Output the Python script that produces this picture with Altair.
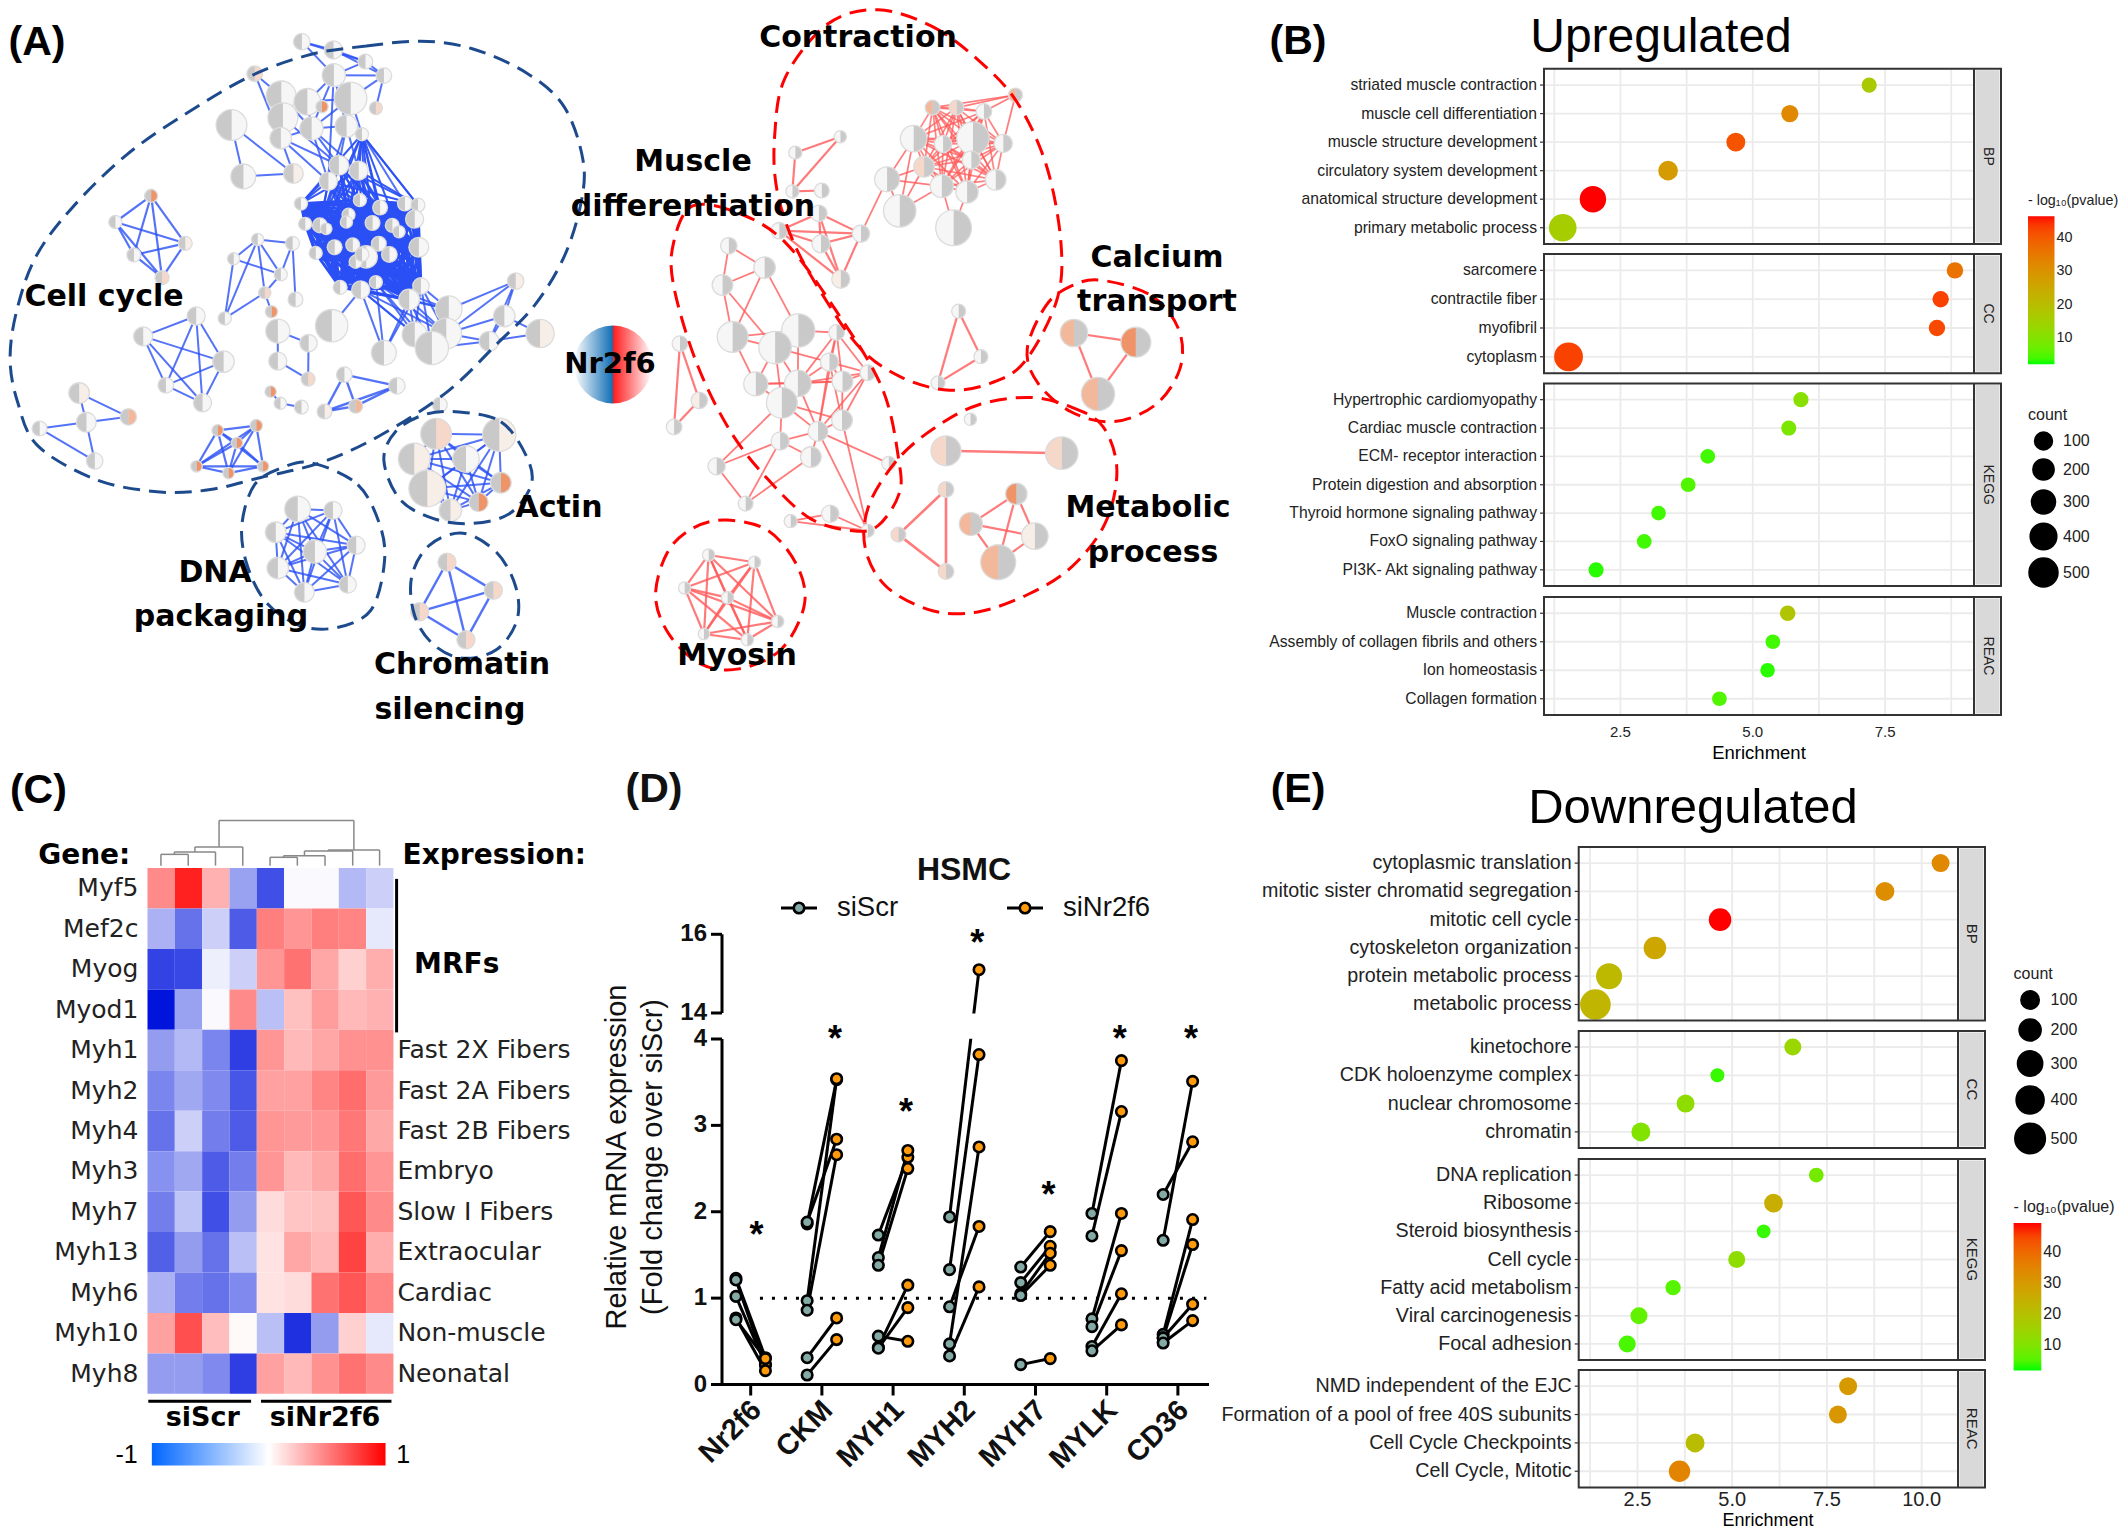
import itertools, math
import altair as alt
import pandas as pd

SX, SY = 660 / 1568, 760 / 1568
ONE = pd.DataFrame({"k": [0]})
SANS = "Liberation Sans"
DJ = "DejaVu Sans"
CW, CH = 2112, 1523   # plot area; reference pixel = chart pixel + 8

# ---------------- Panel A: network (read in zoomed reference units) -------------
N, V, L, P, O = "#f6f6f6", "#f7eee8", "#f5d8ca", "#f2b89c", "#ee9468"
B_TOP = [(717,86,18,N),(792,103,20,N),(868,127,16,N),(912,156,17,N),(605,152,17,L),(793,155,26,N),(668,198,34,N),
         (730,210,30,N),(765,220,13,O),(833,203,37,N),(893,223,14,L),(672,243,34,N),(550,258,35,N),(740,265,26,N),
         (823,260,25,N),(860,277,14,N),(667,285,24,N),(578,364,28,N),(697,358,22,V),(805,341,22,N),(852,352,21,N),(780,374,20,N)]
B_TOP_E = [(0,1),(0,2),(0,5),(1,2),(1,3),(2,3),(2,5),(3,5),(3,10),(5,9),(5,7),(5,13),(5,14),(7,13),(7,9),(7,6),(6,11),
           (11,16),(16,13),(13,14),(13,9),(9,14),(14,15),(4,6),(4,16),(12,17),(12,18),(17,18),(16,18),(11,19),(13,19),
           (14,19),(13,20),(14,20),(15,20),(5,21),(3,9),(8,7),(16,19),(16,21),(13,21),(14,21),(9,15),(6,13)]
B_DENSE = [(715,420,14,N),(855,413,14,N),(903,428,16,N),(962,420,16,N),(993,423,15,N),(725,462,14,N),(760,465,16,N),
           (775,472,12,N),(828,443,14,N),(823,458,13,N),(885,460,16,N),(932,465,15,N),(948,478,13,N),(985,452,20,N),
           (838,505,15,N),(795,510,16,N),(750,522,14,N),(900,503,16,N),(925,525,17,N),(995,510,22,N),(870,530,25,N),
           (845,540,14,N),(860,525,15,N),(893,582,14,N),(808,593,15,N),(857,598,20,N),(1000,590,18,N),(972,618,23,N)]
B_LOW = [(788,672,37,N),(1066,638,30,N),(985,690,28,N),(912,728,28,N),(1060,688,35,N),(1026,718,38,N),
         (1225,580,18,V),(1198,652,24,N),(1162,704,22,N),(1283,688,32,V)]
B_LOW_E = [(1,6),(4,6),(4,7),(4,8),(5,8),(6,7),(6,8),(7,8),(7,9),(8,9)]
B_SQ = [(359,404,14,O),(274,458,14,N),(318,526,15,N),(385,573,15,L),(440,502,15,V)]
B_MID = [(612,494,13,N),(695,502,15,N),(555,534,13,N),(667,566,14,N),(629,604,13,L),(534,657,14,N),(702,618,16,N),(645,643,13,O)]
B_MID_E = [(0,2),(0,3),(0,5),(0,4),(0,1),(2,5),(2,3),(5,4),(3,4),(1,3),(1,6),(4,7)]
B_RING = [(660,683,27,N),(733,708,19,N),(660,745,20,N),(732,782,15,L)]
B_RING_E = [(0,2),(2,3),(1,3),(0,1)]
B_CHAIN = [(643,808,12,O),(666,832,13,N),(716,840,15,N)]
B_CHAIN_E = [(0,1),(1,2)]
B_KITE = [(818,773,17,N),(943,796,18,N),(771,849,16,V),(845,838,15,P)]
B_PENT = [(466,652,20,N),(340,694,21,N),(531,746,24,N),(394,795,17,N),(481,831,20,N)]
B_FIVE = [(188,811,23,V),(205,871,22,N),(94,884,16,N),(305,860,18,P),(225,951,18,N)]
B_FIVE_E = [(0,3),(1,3),(2,1),(2,4),(1,4),(0,1)]
B_SIX = [(517,888,12,O),(609,878,13,O),(563,914,12,O),(467,962,12,O),(625,962,12,O),(543,976,12,O)]
B_ACTIN = [(1036,895,35,L),(1186,897,38,V),(984,947,36,V),(1107,947,30,N),(1190,996,23,O),(1015,1008,42,V),(1137,1036,21,O),(1070,1053,25,V)]
B_DNA = [(707,1050,29,N),(791,1053,20,N),(655,1098,23,N),(846,1125,20,N),(748,1138,26,N),(660,1172,24,N),(723,1222,22,N),(826,1206,19,N)]
B_CHROM = [(1062,1160,20,L),(1172,1218,20,L),(997,1262,20,L),(1107,1320,20,L)]
B_SINGLE = [(1045,835,16,N)]

R_TOP = [(790,222,16,P),(847,222,16,L),(987,196,15,P),(912,230,17,N),(745,286,30,N),(886,285,37,N),(815,297,19,N),(958,296,20,N),
         (770,344,23,L),(882,330,20,N),(940,371,23,N),(812,384,26,N),(872,396,25,N),(682,370,28,N),(712,435,37,N),(840,470,41,N)]
R_TOP_E = [(2,0),(2,1),(2,3),(2,7),(13,4),(13,8),(13,14),(13,11),(14,8),(14,11),(15,11),(15,12),(14,4)]
R_SMALL = [(571,282,13,N),(464,315,14,N),(457,395,14,N),(527,393,16,N),(520,440,18,N),(426,476,18,N),(525,503,20,N),(620,482,19,N),(572,576,20,V)]
R_SMALL_E = [(0,1),(0,2),(1,2),(2,3),(4,5),(4,6),(4,7),(4,8),(5,6),(5,7),(5,8),(6,7),(6,8),(7,8)]
R_TRI = [(852,642,15,N),(905,736,15,N),(803,790,15,N)]
R_MUS = [(306,507,18,N),(391,552,24,N),(291,588,23,N),(315,695,35,N),(471,682,38,N),(416,717,37,N),(562,686,17,N),(545,747,20,N),
         (636,769,17,N),(370,792,27,N),(470,791,30,N),(576,787,23,N),(432,831,35,N),(575,867,23,N),(518,890,22,N),(428,910,20,N),
         (501,943,23,N),(277,962,19,N),(686,956,15,N),(346,1039,16,N),(636,1095,14,N),(547,1060,19,N),(453,1075,14,N)]
R_MUS_E = [(0,1),(0,2),(1,2),(1,3),(2,3),(2,5),(3,5),(3,4),(1,4),(3,9),(4,5),(5,9),(5,10),(4,10),(9,10),(9,12),(10,12),(9,11),(10,11),
           (10,7),(10,6),(10,8),(7,6),(7,11),(6,11),(11,8),(6,8),(7,8),(7,13),(11,13),(8,13),(13,14),(12,14),(10,14),(7,14),(6,14),(8,14),
           (14,15),(12,15),(14,16),(15,16),(15,17),(15,19),(16,19),(17,19),(14,18),(14,20),(13,20),(12,17),(20,21),(20,22),(21,22),(5,7),(4,6),(5,12),(12,13)]
R_TRIO = [(190,709,17,N),(236,826,18,V),(176,881,17,N)]
R_CA = [(1126,687,31,P),(1273,706,34,O),(1183,813,38,P)]
R_BAR = [(822,930,34,L),(1097,935,37,L)]
R_SOLO = [(880,865,13,N)]
R_M1 = [(822,1010,17,L),(709,1103,16,L),(822,1179,17,L)]
R_M2 = [(989,1019,24,O),(881,1081,26,P),(1033,1106,30,V),(946,1160,40,P)]
R_MYO = [(258,1145,13,N),(367,1160,13,N),(201,1213,13,N),(303,1233,13,N),(422,1282,13,N),(247,1308,12,N),(350,1320,13,N)]

BLOBS = {
 "b1": ("b", [(740,112),(870,95),(1000,85),(1120,100),(1250,150),(1340,220),(1385,330),(1380,420),(1340,530),(1270,630),(1180,710),(1060,810),(900,900),(760,955),(620,985),(500,1010),(380,1015),(230,990),(90,920),(42,830),(24,740),(40,640),(85,530),(170,430),(300,320),(450,230),(600,155)]),
 "b2": ("b", [(1090,850),(1190,870),(1250,940),(1262,1000),(1210,1060),(1120,1080),(1030,1070),(950,1030),(912,950),(940,890),(1010,855)]),
 "b3": ("b", [(740,955),(850,1000),(905,1090),(912,1170),(880,1260),(800,1295),(710,1290),(630,1240),(585,1160),(575,1080),(605,1000),(670,965)]),
 "b4": ("b", [(1100,1100),(1180,1140),(1225,1210),(1228,1280),(1180,1340),(1100,1358),(1030,1330),(985,1270),(978,1190),(1020,1125)]),
 "r1": ("r", [(660,20),(790,55),(900,125),(990,210),(1060,340),(1095,500),(1085,620),(1010,745),(930,790),(830,805),(720,780),(620,720),(530,610),(460,500),(420,390),(415,280),(440,160),(540,50)]),
 "r2": ("r", [(220,425),(330,440),(440,500),(560,640),(670,800),(710,950),(710,1020),(660,1085),(600,1095),(500,1070),(400,990),(310,890),(230,750),(175,590),(175,500)]),
 "r3": ("r", [(1190,578),(1310,610),(1375,680),(1378,760),(1320,835),(1220,870),(1120,850),(1040,790),(1015,720),(1060,630),(1120,590)]),
 "r4": ("r", [(1020,820),(1120,840),(1195,880),(1228,970),(1200,1080),(1120,1170),(1020,1225),(900,1262),(790,1260),(680,1210),(630,1130),(640,1040),(710,945),(800,880),(900,835)]),
 "r5": ("r", [(300,1073),(400,1095),(470,1170),(485,1250),(430,1340),(330,1380),(240,1370),(165,1310),(132,1230),(160,1140),(220,1090)]),
}

def bx(v): return v * SX
def rx(v): return 600 + v * SX
def yy(v): return v * SY

nodes, edges = [], []
def add_nodes(lst, fx, side):
    for (x, y, r, c) in lst:
        px, py, pr = fx(x), yy(y), r * SX
        nodes.append(dict(x=px, y=py, r=pr + 1.3, t0=0, t1=2 * math.pi, c="#dcdcdc"))
        right, left = (c, "#c9c9c9") if side == "b" else ("#c9c9c9", c)
        nodes.append(dict(x=px, y=py, r=pr, t0=0, t1=math.pi, c=right))
        nodes.append(dict(x=px, y=py, r=pr, t0=math.pi, t1=2 * math.pi, c=left))
def add_edge(a, b, fx, col, w=2.0, o=0.8):
    edges.append(dict(x1=fx(a[0]), y1=yy(a[1]), x2=fx(b[0]), y2=yy(b[1]), col=col, w=w, o=o))
def clique(lst, fx, col, w=2.0, o=0.8):
    for a, b in itertools.combinations(lst, 2):
        add_edge(a, b, fx, col, w, o)
def pairs(lst, prs, fx, col, w=2.0, o=0.8):
    for i, j in prs:
        add_edge(lst[i], lst[j], fx, col, w, o)
def cross(la, lb, fx, col, w=2.0, o=0.8):
    for a in la:
        for b in lb:
            add_edge(a, b, fx, col, w, o)

BC, RC = "#2a50f5", "#ff5a5a"
pairs(B_TOP, B_TOP_E, bx, BC)
clique(B_DENSE, bx, BC, 2.8, 1)
cross([B_TOP[15], B_TOP[19], B_TOP[20], B_TOP[21]], B_DENSE[:22:2], bx, BC, 2.0, 0.95)
cross([B_TOP[15]], [B_DENSE[3], B_DENSE[4]], bx, BC)
cross([B_DENSE[23], B_DENSE[25], B_DENSE[26], B_DENSE[27]], [B_LOW[1], B_LOW[2], B_LOW[3], B_LOW[4], B_LOW[5]], bx, BC)
add_edge(B_LOW[0], B_DENSE[25], bx, BC)
pairs(B_LOW, B_LOW_E, bx, BC)
clique(B_SQ, bx, BC, 2.2)
pairs(B_MID, B_MID_E, bx, BC)
pairs(B_RING, B_RING_E, bx, BC)
pairs(B_CHAIN, B_CHAIN_E, bx, BC)
clique(B_KITE, bx, BC, 2.4)
clique(B_PENT, bx, BC)
pairs(B_FIVE, B_FIVE_E, bx, BC)
clique(B_SIX, bx, BC, 2.2)
clique(B_ACTIN, bx, BC)
clique(B_DNA, bx, BC)
clique(B_CHROM, bx, BC, 2.4)
clique(R_TOP[:2] + R_TOP[3:13], rx, RC, 1.7, 0.75)
pairs(R_TOP, R_TOP_E, rx, RC, 1.7)
pairs(R_SMALL, R_SMALL_E, rx, RC, 2.2)
add_edge(R_SMALL[7], R_TOP[13], rx, RC, 1.7)
clique(R_TRI, rx, RC, 2.2)
pairs(R_MUS, R_MUS_E, rx, RC, 1.8)
clique(R_TRIO, rx, RC, 2.2)
clique(R_CA, rx, RC, 2.2)
clique(R_BAR, rx, RC, 2.6)
clique(R_M1, rx, RC, 2.6)
clique(R_M2, rx, RC, 2.2)
clique(R_MYO, rx, RC, 2.2)

for g in [B_TOP, B_DENSE, B_LOW, B_SQ, B_MID, B_RING, B_CHAIN, B_KITE, B_PENT, B_FIVE, B_SIX, B_ACTIN, B_DNA, B_CHROM, B_SINGLE]:
    add_nodes(g, bx, "b")
for g in [R_TOP, R_SMALL, R_TRI, R_MUS, R_TRIO, R_CA, R_BAR, R_SOLO, R_M1, R_M2, R_MYO]:
    add_nodes(g, rx, "r")

blob_rows = []
for name, (side, pts) in BLOBS.items():
    f = bx if side == "b" else rx
    for i, (x, y) in enumerate(pts):
        blob_rows.append(dict(x=f(x), y=yy(y), name=name, i=i, col="#1d4a8c" if side == "b" else "#ff0000"))
blob_df = pd.DataFrame(blob_rows)

AX = alt.Scale(domain=[8, 8 + CW], nice=False, zero=False)
AY = alt.Scale(domain=[8 + CH, 8], nice=False, zero=False)

def tx(text, x, y, size, weight="normal", font=SANS, align="center", baseline="middle", color="black", angle=None):
    """x, y in reference pixels."""
    kw = dict(fontSize=size, fontWeight=weight, font=font, align=align, baseline=baseline, color=color, text=text)
    if angle is not None:
        kw["angle"] = angle
    return alt.Chart(ONE).mark_text(**kw).encode(x=alt.value(x - 8), y=alt.value(y - 8))

edge_l = alt.Chart(pd.DataFrame(edges)).mark_rule().encode(
    x=alt.X("x1:Q", scale=AX, axis=None), x2="x2:Q",
    y=alt.Y("y1:Q", scale=AY, axis=None), y2="y2:Q",
    color=alt.Color("col:N", scale=None, legend=None),
    strokeWidth=alt.StrokeWidth("w:Q", scale=None, legend=None),
    opacity=alt.Opacity("o:Q", scale=None, legend=None))
node_l = alt.Chart(pd.DataFrame(nodes)).mark_arc().encode(
    x=alt.X("x:Q", scale=AX, axis=None), y=alt.Y("y:Q", scale=AY, axis=None),
    theta=alt.Theta("t0:Q", scale=None, stack=None), theta2="t1:Q",
    radius=alt.Radius("r:Q", scale=None),
    color=alt.Color("c:N", scale=None, legend=None))
blob_l = alt.Chart(blob_df).mark_line(interpolate="cardinal-closed", strokeWidth=3, strokeDash=[17, 9]).encode(
    x=alt.X("x:Q", scale=AX, axis=None), y=alt.Y("y:Q", scale=AY, axis=None),
    order="i:Q", detail="name:N",
    color=alt.Color("col:N", scale=None, legend=None))

NC = (613 - 8, 364.5 - 8)
hub_l = alt.Chart(ONE).mark_arc(radius=39, theta=math.pi, theta2=2 * math.pi,
    fill=alt.Gradient(gradient="linear", x1=0, x2=1, y1=0, y2=0,
                      stops=[alt.GradientStop(color="#ffffff", offset=0), alt.GradientStop(color="#0f6db5", offset=1)])
    ).encode(x=alt.value(NC[0]), y=alt.value(NC[1]))
hub_r = alt.Chart(ONE).mark_arc(radius=39, theta=0, theta2=math.pi,
    fill=alt.Gradient(gradient="linear", x1=0, x2=1, y1=0, y2=0,
                      stops=[alt.GradientStop(color="#ff1a1a", offset=0), alt.GradientStop(color="#ffffff", offset=1)])
    ).encode(x=alt.value(NC[0]), y=alt.value(NC[1]))

A_LABELS = [("Cell cycle",104,297),("DNA",215,573),("packaging",221,617),("Actin",559,508),("Chromatin",462,665),("silencing",450,710),
            ("Contraction",858,38),("Muscle",693,162),("differentiation",693,207),("Calcium",1157,258),("transport",1157,302),
            ("Metabolic",1148,508),("process",1153,553),("Myosin",737,656)]
a_layers = [edge_l, node_l, blob_l, hub_l, hub_r]
for t, x, y in A_LABELS:
    a_layers.append(tx(t, x, y, 30, "bold", DJ))
a_layers.append(tx("Nr2f6", 610, 364, 29, "bold", DJ))
a_layers.append(tx("(A)", 37, 43, 41, "bold"))
panel_a = alt.layer(*a_layers)

# ---------------- Panels B / E : dot plots ---------------------------------------
UP = {
 "BP": (["striated muscle contraction","muscle cell differentiation","muscle structure development","circulatory system development","anatomical structure development","primary metabolic process"],
        [7.20,5.70,4.68,3.40,1.98,1.41],[30,80,130,150,390,440],[17,32,41,28,46.4,16]),
 "CC": (["sarcomere","contractile fiber","myofibril","cytoplasm"],
        [8.82,8.55,8.48,1.52],[60,60,60,490],[36,43,42,43]),
 "KEGG": (["Hypertrophic cardiomyopathy","Cardiac muscle contraction","ECM- receptor interaction","Protein digestion and absorption","Thyroid hormone signaling pathway","FoxO signaling pathway","PI3K- Akt signaling pathway"],
        [5.91,5.68,4.15,3.78,3.22,2.95,2.04],[30,30,20,20,20,20,30],[11,9,4,5,4,4,3]),
 "REAC": (["Muscle contraction","Assembly of collagen fibrils and others","Ion homeostasis","Collagen formation"],
        [5.66,5.38,5.28,4.37],[40,20,15,20],[18,4,3,5]),
}
DOWN = {
 "BP": (["cytoplasmic translation","mitotic sister chromatid segregation","mitotic cell cycle","cytoskeleton organization","protein metabolic process","metabolic process"],
        [10.50,9.03,4.68,2.96,1.75,1.39],[89,114,214,214,325,500],[34,33,49.6,27,22,23]),
 "CC": (["kinetochore","CDK holoenzyme complex","nuclear chromosome","chromatin"],
        [6.60,4.61,3.77,2.59],[66,3,89,114],[14,3,12,10]),
 "KEGG": (["DNA replication","Ribosome","Steroid biosynthesis","Cell cycle","Fatty acid metabolism","Viral carcinogenesis","Focal adhesion"],
        [7.22,6.09,5.83,5.12,3.44,2.54,2.23],[17,106,0,66,29,66,66],[8,25,3,12,5,6,4]),
 "REAC": (["NMD independent of the EJC","Formation of a pool of free 40S subunits","Cell Cycle Checkpoints","Cell Cycle, Mitotic"],
        [8.06,7.79,4.02,3.61],[89,89,114,180],[30,31,21,35]),
}
GRID_B = [1.25,2.5,3.75,5,6.25,7.5,8.75]
GRID_E = [1.25,2.5,3.75,5,6.25,7.5,8.75,10]

def dot_panel(key, data, l, r, sr, t, b, xdom, grid, ticks, tick_y, tick_size, area, cdom, lab, strip_size, leg_c=None, leg_s=None):
    cats, xs, counts, pv = data
    L0, R0, S0, T0, B0 = l - 8, r - 8, sr - 8, t - 8, b - 8
    df = pd.DataFrame({"cat": cats, "x": xs, "count": counts, "p": pv})
    XS = alt.Scale(domain=xdom, range=[L0, R0], nice=False, zero=False)
    YS = alt.Scale(type="point", domain=cats, range=[T0, B0], padding=0.57)
    ax = alt.X("x:Q", scale=XS, axis=None)
    ay = alt.Y("cat:N", scale=YS, axis=None, sort=None)
    base = alt.Chart(df)
    layers = [
        alt.Chart(pd.DataFrame({"x": grid})).mark_rule(color="#ebebeb", strokeWidth=1.8).encode(x=ax, y=alt.value(T0), y2=alt.value(B0)),
        base.mark_rule(color="#ebebeb", strokeWidth=1.8).encode(y=ay, x=alt.value(L0), x2=alt.value(R0)),
        base.mark_rule(color="#333333", strokeWidth=1.2).encode(y=ay, x=alt.value(L0 - 4), x2=alt.value(L0)),
        base.mark_text(align="right", fontSize=lab, color="#222222", font=SANS).encode(y=ay, x=alt.value(L0 - 7), text="cat:N"),
        base.mark_circle(opacity=1).encode(
            x=ax, y=ay,
            size=alt.Size("count:Q", scale=alt.Scale(domain=[0, 500], range=area), legend=leg_s),
            color=alt.Color("p:Q", scale=alt.Scale(domain=cdom, range=["#00ff00", "#ff0000"], interpolate="lab"), legend=leg_c)),
        alt.Chart(ONE).mark_rect(color="#d9d9d9").encode(x=alt.value(R0 + 1.5), x2=alt.value(S0 - 1.5), y=alt.value(T0 + 1.5), y2=alt.value(B0 - 1.5)),
        alt.Chart(ONE).mark_text(text=key, angle=90, fontSize=strip_size, color="#222222", font=SANS).encode(x=alt.value((R0 + S0) / 2), y=alt.value((T0 + B0) / 2)),
        alt.Chart(ONE).mark_rect(fill="white", fillOpacity=0, stroke="#333333", strokeWidth=2).encode(x=alt.value(L0), x2=alt.value(S0), y=alt.value(T0), y2=alt.value(B0)),
        alt.Chart(ONE).mark_rule(color="#333333", strokeWidth=2).encode(x=alt.value(R0), y=alt.value(T0), y2=alt.value(B0)),
    ]
    if ticks:
        tdf = pd.DataFrame({"x": ticks, "s": [f"{v:.1f}" for v in ticks]})
        layers.append(alt.Chart(tdf).mark_text(fontSize=tick_size, color="#222222", font=SANS).encode(x=ax, y=alt.value(tick_y - 8), text="s:N"))
    return alt.layer(*layers)

def leg_color(x, y, length, thick, size):
    return alt.Legend(title="- log₁₀(pvalue)", orient="none", legendX=x, legendY=y, gradientLength=length, gradientThickness=thick,
                      values=[10,20,30,40], titleFontSize=size, titleFontWeight="normal", labelFontSize=size, titlePadding=8,
                      titleLimit=300, gradientStrokeWidth=0, labelColor="#222", titleColor="#222", direction="vertical")
def leg_size(x, y, size, pad):
    return alt.Legend(title="count", orient="none", legendX=x, legendY=y, values=[100,200,300,400,500], titleFontSize=size,
                      titleFontWeight="normal", labelFontSize=size, symbolFillColor="black", symbolStrokeColor="black",
                      symbolOpacity=1, rowPadding=pad, titlePadding=8, labelColor="#222", titleColor="#222", symbolType="circle")
def leg_ticks(x0, x1, top, bot, cdom):
    ys = alt.Y("v:Q", scale=alt.Scale(domain=cdom, range=[bot - 8, top - 8], nice=False, zero=False), axis=None)
    df = pd.DataFrame({"v": [10, 20, 30, 40]})
    w = (x1 - x0) / 5
    return alt.layer(
        alt.Chart(df).mark_rule(color="white", strokeWidth=1.2).encode(y=ys, x=alt.value(x0 - 8), x2=alt.value(x0 - 8 + w)),
        alt.Chart(df).mark_rule(color="white", strokeWidth=1.2).encode(y=ys, x=alt.value(x1 - 8 - w), x2=alt.value(x1 - 8)))

B_BOX = {"BP": (68.8, 244), "CC": (254, 373.2), "KEGG": (383.5, 586), "REAC": (597, 715)}
E_BOX = {"BP": (847, 1020.6), "CC": (1030.9, 1148), "KEGG": (1159, 1360), "REAC": (1370, 1487.4)}
panels = []
for key in ["BP", "CC", "KEGG", "REAC"]:
    t, b = B_BOX[key]
    panels.append(dot_panel(key, UP[key], 1544, 1974, 2001, t, b, [1.056, 9.18], GRID_B, [2.5,5,7.5] if key == "REAC" else None, 731.6, 15,
                            [191, 841], [2.25, 46.4], 15.7, 14,
                            leg_color(2020, 186, 148, 26.5, 14.3) if key == "BP" else None,
                            leg_size(2020, 399, 16, 2) if key == "BP" else None))
    t, b = E_BOX[key]
    panels.append(dot_panel(key, DOWN[key], 1578.7, 1958, 1985, t, b, [0.949, 10.96], GRID_E, [2.5,5,7.5,10] if key == "REAC" else None, 1500, 20,
                            [191, 936], [1.55, 49.6], 19.7, 15,
                            leg_color(2005.6, 1191, 147.6, 27.7, 16) if key == "BP" else None,
                            leg_size(2005.6, 958, 16, 2) if key == "BP" else None))
panels.append(leg_ticks(2028, 2054.5, 218.5, 367, [2.25, 46.4]))
panels.append(leg_ticks(2013.6, 2041.3, 1223, 1370.7, [1.55, 49.6]))
heads = [tx("Upregulated", 1661, 51.5, 48, baseline="alphabetic"), tx("(B)", 1298, 42, 41, "bold"),
         tx("Enrichment", 1759, 752.7, 18.5),
         tx("Downregulated", 1693, 822.5, 49, baseline="alphabetic"), tx("(E)", 1298, 790, 41, "bold"),
         tx("Enrichment", 1768, 1521, 18)]

# ---------------- Panel C: heatmap ---------------------------------------------
GENES = ["Myf5","Mef2c","Myog","Myod1","Myh1","Myh2","Myh4","Myh3","Myh7","Myh13","Myh6","Myh10","Myh8"]
HEAT = [
 [.5,.95,.33,-.4,-.75,-.02,-.02,-.3,-.2],
 [-.33,-.6,-.2,-.7,.55,.45,.55,.52,-.1],
 [-.8,-.78,-.07,-.2,.45,.6,.38,.2,.35],
 [-1,-.4,-.02,.5,-.27,.27,.42,.3,.33],
 [-.42,-.3,-.52,-.82,.45,.3,.38,.47,.47],
 [-.52,-.37,-.5,-.72,.4,.4,.52,.62,.43],
 [-.6,-.2,-.55,-.7,.45,.43,.45,.58,.37],
 [-.47,-.37,-.7,-.55,.45,.3,.37,.62,.45],
 [-.55,-.25,-.75,-.42,.15,.25,.27,.72,.5],
 [-.68,-.42,-.6,-.27,.12,.38,.3,.8,.35],
 [-.33,-.55,-.6,-.5,.12,.15,.6,.72,.52],
 [.4,.75,.28,.02,-.27,-.88,-.42,.2,-.1],
 [-.42,-.42,-.5,-.82,.4,.3,.47,.6,.5],
]
FIBERS = {"Myh1":"Fast 2X Fibers","Myh2":"Fast 2A Fibers","Myh4":"Fast 2B Fibers","Myh3":"Embryo","Myh7":"Slow I Fibers","Myh13":"Extraocular",
          "Myh6":"Cardiac","Myh10":"Non-muscle","Myh8":"Neonatal"}
DENDRO = [(407,172,407,195),(476,172,476,195),(407,172,476,172),(441,167,441,172),(441,167,545,167),(545,167,545,195),(493,157,493,167),
          (493,157,614,157),(614,157,614,195),(554,103,554,157),(683,178,683,195),(752,178,752,195),(683,178,752,178),(717,175,717,178),
          (717,175,822,175),(822,175,822,195),(770,165,770,175),(770,165,892,165),(892,165,892,195),(830,163,830,165),(830,163,960,163),
          (960,163,960,195),(895,103,895,163),(554,103,895,103)]
CX, CY = 620 / 1568, 769 / 1568
def cx(v): return v * CX           # reference px
def cy(v): return 770 + v * CY

heat_df = pd.DataFrame([{"gene": g, "col": j, "v": HEAT[i][j]} for i, g in enumerate(GENES) for j in range(9)])
XB = alt.Scale(domain=list(range(9)), range=[cx(373) - 8, cx(995) - 8], paddingInner=0, paddingOuter=0)
YB = alt.Scale(domain=GENES, range=[cy(200) - 8, cy(1272) - 8], paddingInner=0, paddingOuter=0)
heat = alt.Chart(heat_df).mark_rect().encode(
    x=alt.X("col:O", scale=XB, axis=None, sort=None),
    y=alt.Y("gene:N", scale=YB, axis=None, sort=None),
    color=alt.Color("v:Q", scale=alt.Scale(domain=[-1,0,1], range=["#0014dc","#ffffff","#ff1414"], interpolate="rgb"), legend=None))
gene_t = alt.Chart(pd.DataFrame({"gene": GENES})).mark_text(align="right", font=DJ, fontSize=25, color="#222222").encode(
    x=alt.value(cx(350) - 8), y=alt.Y("gene:N", scale=YB, axis=None, sort=None), text="gene:N")
fib_df = pd.DataFrame({"gene": list(FIBERS), "lab": list(FIBERS.values())})
fib_t = alt.Chart(fib_df).mark_text(align="left", font=DJ, fontSize=25, color="#222222").encode(
    x=alt.value(cx(1005) - 8), y=alt.Y("gene:N", scale=YB, axis=None, sort=None), text="lab:N")
panel_heat = alt.layer(heat, gene_t, fib_t)
dendro_df = pd.DataFrame([{"x1": cx(a), "y1": cy(b), "x2": cx(c), "y2": cy(d)} for a, b, c, d in DENDRO])
dendro = alt.Chart(dendro_df).mark_rule(color="#888888", strokeWidth=1.5).encode(
    x=alt.X("x1:Q", scale=AX, axis=None), x2="x2:Q", y=alt.Y("y1:Q", scale=AY, axis=None), y2="y2:Q")
def bar(a, b, c, d, w=3):
    return alt.Chart(ONE).mark_rule(color="black", strokeWidth=w).encode(
        x=alt.value(cx(a) - 8), x2=alt.value(cx(c) - 8), y=alt.value(cy(b) - 8), y2=alt.value(cy(d) - 8))
cbar = alt.Chart(ONE).mark_rect(fill=alt.Gradient(gradient="linear", x1=0, x2=1, y1=0, y2=0,
        stops=[alt.GradientStop(color="#0066ff", offset=0), alt.GradientStop(color="#ffffff", offset=0.5), alt.GradientStop(color="#ff0000", offset=1)])
    ).encode(x=alt.value(cx(384) - 8), x2=alt.value(cx(975) - 8), y=alt.value(cy(1372) - 8), y2=alt.value(cy(1418) - 8))
c_extra = [bar(1003,222,1003,535), bar(375,1287,635,1287), bar(660,1287,990,1287), cbar,
           tx("(C)", cx(97), cy(42), 41, "bold"), tx("Gene:", cx(213), cy(175), 28, "bold", DJ), tx("Expression:", cx(1250), cy(175), 28, "bold", DJ),
           tx("MRFs", cx(1155), cy(398), 28, "bold", DJ), tx("siScr", cx(513), cy(1322), 27, "bold", DJ), tx("siNr2f6", cx(822), cy(1322), 27, "bold", DJ),
           tx("-1", cx(320), cy(1397), 25), tx("1", cx(1020), cy(1397), 25)]

# ---------------- Panel D: paired qPCR ------------------------------------------
D_GENES = ["Nr2f6","CKM","MYH1","MYH2","MYH7","MYLK","CD36"]
D_SCR = [[1.23,1.21,1.02,.77,.75],[1.86,1.88,.97,.86,.31,.11],[1.73,1.47,1.38,.56,.43,.42],[1.94,1.33,.47,.9,.33],[1.36,1.18,1.05,1.03,.23],
         [1.98,1.72,.76,.67,.44,.39],[2.2,1.67,.58,.54,.54,.48]]
D_NR = [[.31,.23,.23,.16,.3],[3.53,2.84,3.54,2.66,.77,.52],[2.63,2.71,2.5,.5,1.15,.89],[15.1,3.82,2.75,1.83,1.13],[1.77,1.6,1.52,1.38,.3],
        [3.75,3.16,1.98,1.55,1.05,.69],[2.81,3.51,1.91,1.62,.93,.74]]
D_STAR = [1.84,7.6,3.26,16.0,2.3,7.6,7.6]
D_STAR_X = [.083,1.183,2.183,3.183,4.183,5.183,6.183]
D_YTICKS = [0,1,2,3,4,14,16]
D_OFF = 0.207
DL, DR, D0 = 722, 1209, 1384.5
rows = []
for i, g in enumerate(D_GENES):
    for p, (a, b) in enumerate(zip(D_SCR[i], D_NR[i])):
        rows.append(dict(x=i - D_OFF, y=a, pair=f"{g}{p}", grp="siScr"))
        rows.append(dict(x=i + D_OFF, y=b, pair=f"{g}{p}", grp="siNr2f6"))
d_df = pd.DataFrame(rows)
DXS = alt.Scale(domain=[-0.403, 6.437], range=[DL - 8, DR - 8], nice=False, zero=False)
DYS = alt.Scale(domain=[0,4,14,16], range=[D0 - 8, 1039 - 8, 1013 - 8, 934.3 - 8], nice=False, zero=False)
d_x = alt.X("x:Q", scale=DXS, axis=None)
d_y = alt.Y("y:Q", scale=DYS, axis=None)
TK = dict(color="black", strokeWidth=3)
d_lines = alt.Chart(d_df).mark_line(color="black", strokeWidth=3).encode(x=d_x, y=d_y, detail="pair:N")
d_pts = alt.Chart(d_df).mark_point(filled=True, size=110, stroke="black", strokeWidth=2.6, opacity=1).encode(
    x=d_x, y=d_y,
    fill=alt.Fill("grp:N", scale=alt.Scale(domain=["siScr","siNr2f6"], range=["#84aaa6","#ff9a0a"]), legend=None))
d_ref = alt.Chart(pd.DataFrame({"y":[1.0],"x":[0.13],"b":[6.4]})).mark_rule(color="black", strokeWidth=3, strokeDash=[3,9]).encode(
    y=d_y, x=d_x, x2="b:Q")
d_gap = alt.Chart(pd.DataFrame({"y":[4.12],"b":[13.85]})).mark_rect(color="white").encode(
    y=d_y, y2="b:Q", x=alt.value(DL - 8 + 3), x2=alt.value(DR - 8))
star_df = pd.DataFrame({"x": D_STAR_X, "y": D_STAR})
d_star = alt.Chart(star_df).mark_text(text="*", font=SANS, fontWeight="bold", fontSize=36, dy=10, color="black").encode(x=d_x, y=d_y)
d_xdom = alt.Chart(ONE).mark_rule(**TK).encode(x=alt.value(DL - 8), x2=alt.value(DR - 8), y=alt.value(D0 - 8))
d_ydom = alt.Chart(pd.DataFrame({"y":[0,14],"b":[4,16]})).mark_rule(**TK).encode(y=d_y, y2="b:Q", x=alt.value(DL - 8))
xt_df = pd.DataFrame({"x": list(range(7)), "g": D_GENES})
d_xt = alt.Chart(xt_df).mark_rule(**TK).encode(x=d_x, y=alt.value(D0 - 8), y2=alt.value(D0 - 8 + 11))
d_xl = alt.Chart(xt_df).mark_text(angle=315, align="right", baseline="middle", font=SANS, fontWeight="bold", fontSize=29, color="#111111", dy=19, dx=-10.6).encode(
    x=d_x, y=alt.value(D0 - 8), text="g:N")
yt_df = pd.DataFrame({"y": D_YTICKS, "s": [str(v) for v in D_YTICKS]})
d_yt = alt.Chart(yt_df).mark_rule(**TK).encode(y=d_y, x=alt.value(DL - 8 - 11), x2=alt.value(DL - 8))
d_yl = alt.Chart(yt_df).mark_text(align="right", font=SANS, fontWeight="bold", fontSize=24, color="#111111").encode(y=d_y, x=alt.value(DL - 8 - 15), text="s:N")
panel_d = alt.layer(d_ref, d_lines, d_pts, d_gap, d_star, d_xdom, d_ydom, d_xt, d_xl, d_yt, d_yl)
def dleg(x0, x1, y, fill):
    return [alt.Chart(ONE).mark_rule(color="black", strokeWidth=3).encode(x=alt.value(x0 - 8), x2=alt.value(x1 - 8), y=alt.value(y - 8)),
            alt.Chart(ONE).mark_point(filled=True, size=110, fill=fill, stroke="black", strokeWidth=2.6, opacity=1).encode(x=alt.value((x0 + x1) / 2 - 8), y=alt.value(y - 8))]
def dtx(t, x, y, size, weight="normal", angle=None, align="center"):
    return tx(t, x, y, size, weight, SANS, align, "middle", "#111111", angle)
d_extra = [dtx("HSMC", 964, 869.5, 32, "bold"), *dleg(781, 817, 908, "#84aaa6"), dtx("siScr", 837, 908, 27.5, align="left"),
           *dleg(1007, 1043, 908, "#ff9a0a"), dtx("siNr2f6", 1063, 908, 27.5, align="left"),
           dtx("Relative mRNA expression", 617, 1157, 29, angle=270), dtx("(Fold change over siScr)", 653, 1157, 29, angle=270),
           dtx("(D)", 654, 790, 41, "bold")]

chart = alt.layer(panel_a, dendro, panel_heat, *c_extra, panel_d, *d_extra, *panels, *heads).resolve_scale(
    x="independent", y="independent", color="independent", size="independent", fill="independent"
).properties(width=CW, height=CH, padding=0, background="white", autosize=alt.AutoSizeParams(type="none")).configure_view(stroke=None)
chart.save("out.html", embed_options={"renderer": "svg", "actions": False})
